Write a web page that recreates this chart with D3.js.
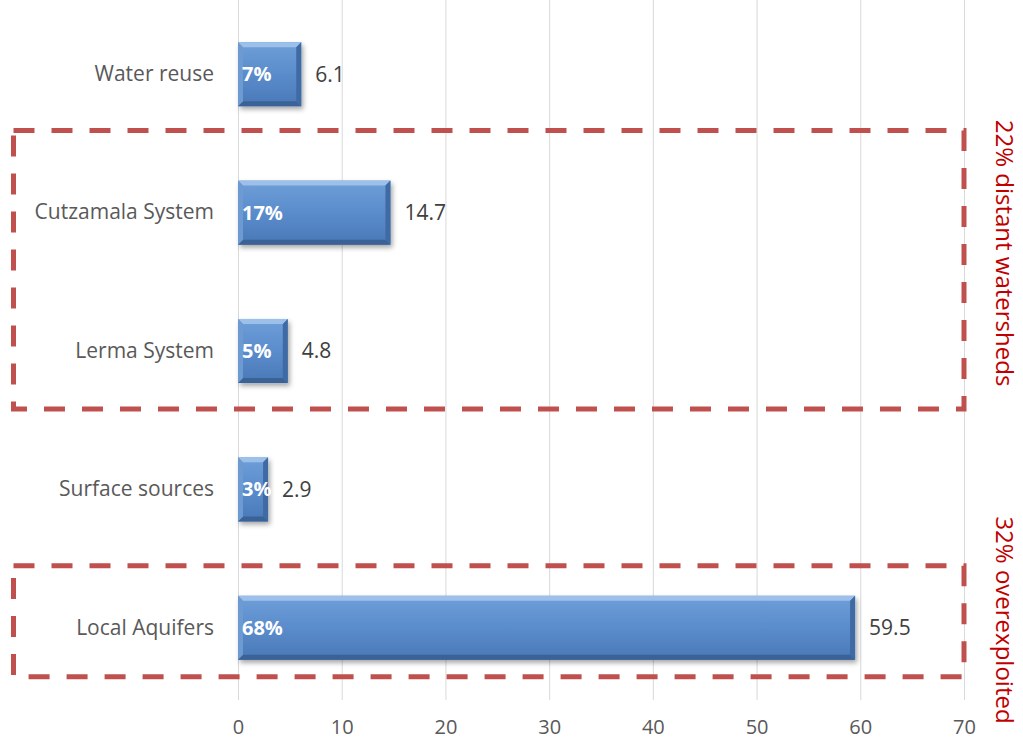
<!DOCTYPE html>
<html><head><meta charset="utf-8">
<script src="https://cdn.jsdelivr.net/npm/d3@7"></script>
<style>html,body{margin:0;padding:0;background:#fff;}svg{display:block;font-family:"Open Sans",sans-serif;}</style>
</head><body>
<svg id="c" width="1023" height="741"></svg>
<script>
const categories = ["Water reuse","Cutzamala System","Lerma System","Surface sources","Local Aquifers"];
const values = [6.1,14.7,4.8,2.9,59.5];
const shares = ["7%","17%","5%","3%","68%"];
const ticks = [0,10,20,30,40,50,60,70];
const groups = [
  {from:"Cutzamala System", to:"Lerma System", label:"22% distant watersheds"},
  {from:"Local Aquifers", to:"Local Aquifers", label:"32% overexploited"}
];

const FONT = "'Open Sans',sans-serif";
const svg = d3.select("#c");
const x = d3.scaleLinear().domain([0,70]).range([238,964]);
const y = d3.scaleBand().domain(categories).range([5,697]).paddingInner(0.537).paddingOuter(0.2685);

const defs = svg.append("defs");
const g1 = defs.append("linearGradient").attr("id","barg").attr("x1",0).attr("y1",0).attr("x2",0).attr("y2",1);
g1.append("stop").attr("offset","0%").attr("stop-color","#6f9fd8");
g1.append("stop").attr("offset","50%").attr("stop-color","#5a8ccc");
g1.append("stop").attr("offset","100%").attr("stop-color","#4a78b6");
const f = defs.append("filter").attr("id","sh").attr("x","-10%").attr("y","-20%").attr("width","130%").attr("height","160%");
f.append("feDropShadow").attr("dx",2).attr("dy",3).attr("stdDeviation",2.5).attr("flood-color","#000").attr("flood-opacity",0.35);

svg.append("g").selectAll("line").data(ticks).join("line")
  .attr("x1",d=>x(d)+0.5).attr("x2",d=>x(d)+0.5).attr("y1",0).attr("y2",700)
  .attr("stroke","#d9d9d9").attr("stroke-width",1);

const ax = svg.append("g").attr("transform","translate(0,700)")
  .call(d3.axisBottom(x).tickValues(ticks).tickSize(0).tickPadding(20));
ax.select(".domain").remove();
ax.selectAll("text").attr("font-size",20).attr("fill","#595959").attr("font-family",FONT);

const ay = svg.append("g").attr("transform","translate(214,0)")
  .call(d3.axisLeft(y).tickSize(0).tickPadding(0));
ay.select(".domain").remove();
ay.selectAll("text").attr("font-size",21).attr("fill","#595959").attr("font-family",FONT);

const bev = 5;
const bars = svg.append("g").selectAll("g").data(categories.map((c,i)=>({c,v:values[i],s:shares[i]}))).join("g");
bars.each(function(d){
  const g = d3.select(this);
  const x0 = x(0), x1 = x(d.v), y0 = y(d.c), y1 = y0 + y.bandwidth();
  g.append("rect").attr("x",x0).attr("y",y0).attr("width",x1-x0).attr("height",y1-y0)
    .attr("fill","url(#barg)").attr("filter","url(#sh)");
  const poly = (pts,fill)=>g.append("polygon").attr("points",pts.map(p=>p.join(",")).join(" ")).attr("fill",fill);
  poly([[x0,y0],[x1,y0],[x1-bev,y0+bev],[x0+bev,y0+bev]],"#9dc0ea");
  poly([[x0,y1],[x1,y1],[x1-bev,y1-bev],[x0+bev,y1-bev]],"#3b6296");
  poly([[x0,y0],[x0+bev,y0+bev],[x0+bev,y1-bev],[x0,y1]],"#6e9ad2");
  poly([[x1,y0],[x1-bev,y0+bev],[x1-bev,y1-bev],[x1,y1]],"#3f6aa3");
  g.append("text").attr("x",x0+4).attr("y",(y0+y1)/2).attr("dy","0.35em")
    .attr("fill","#fff").attr("font-weight","bold").attr("font-size",20).text(d.s);
  g.append("text").attr("x",x1+14).attr("y",(y0+y1)/2).attr("dy","0.35em")
    .attr("fill","#404040").attr("font-size",21).text(d.v.toFixed(1));
});

const boxes = svg.append("g");
groups.forEach((gr,i)=>{
  const top = y(gr.from) - (i===0 ? 50 : 30);
  const bot = y(gr.to) + y.bandwidth() + (i===0 ? 26 : 17);
  boxes.append("rect").attr("x",13.5).attr("y",top).attr("width",x(70)-13.5).attr("height",bot-top)
    .attr("fill","none").attr("stroke","#c0504d").attr("stroke-width",5).attr("stroke-dasharray","21,17");
  svg.append("text").attr("transform",`translate(1004,${i===0?253:620}) rotate(90)`)
    .attr("text-anchor","middle").attr("dy","0.35em").attr("fill","#c00000").attr("font-size",24).text(gr.label);
});
</script>
</body></html>
